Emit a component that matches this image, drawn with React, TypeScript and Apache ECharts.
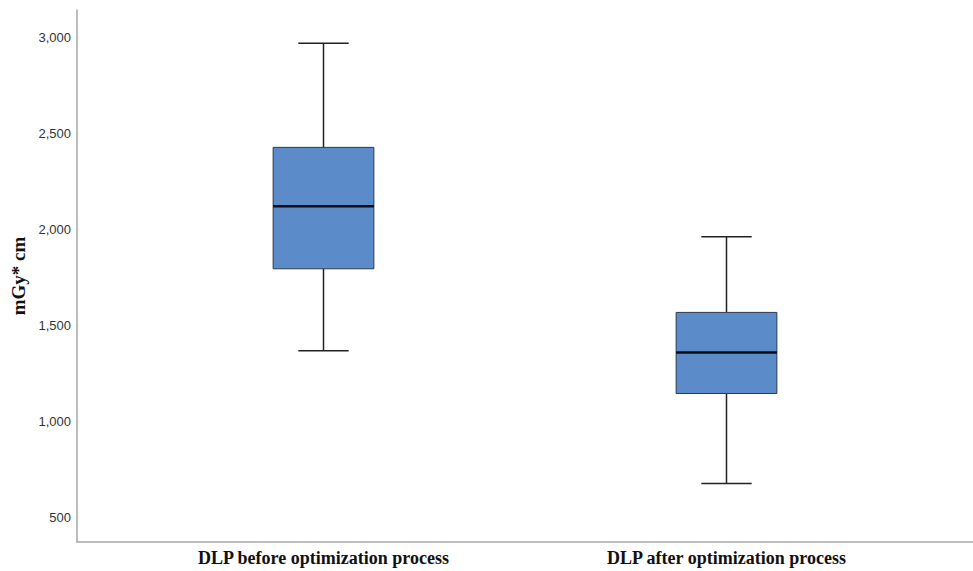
import React, { useEffect, useRef } from "react";
import * as echarts from "echarts";

const categories = ["DLP before optimization process", "DLP after optimization process"];
// [min, Q1, median, Q3, max]
const boxValues = [
  [1368, 1795, 2121, 2427, 2969],
  [677, 1146, 1359, 1568, 1962],
];
const yTicks = [500, 1000, 1500, 2000, 2500, 3000];
const yMin = 373;
const yMax = 3142;
const yName = "mGy* cm";

export default function App() {
  const ref = useRef<HTMLDivElement>(null);
  useEffect(() => {
    if (!ref.current) return;
    const chart = echarts.init(ref.current, undefined, { renderer: "svg" });
    const serif = "'Liberation Serif', 'DejaVu Serif', serif";
    const sans = "'Liberation Sans', Arial, sans-serif";
    chart.setOption({
      animation: false,
      backgroundColor: "#ffffff",
      grid: [
        { left: 122, right: 45, top: 10, bottom: 29 },
        { left: 77, right: 0, top: 10, bottom: 29 },
      ],
      xAxis: [
        {
          type: "category",
          gridIndex: 0,
          data: categories,
          axisLine: { show: false },
          axisTick: { show: false },
          axisLabel: {
            margin: 7,
            fontFamily: serif,
            fontWeight: "bold",
            fontSize: 18,
            color: "#111",
          },
        },
        {
          type: "value",
          gridIndex: 1,
          min: 0,
          max: 1,
          axisLine: { show: true, onZero: false, lineStyle: { color: "#a8a8a8", width: 1.5 } },
          axisTick: { show: false },
          axisLabel: { show: false },
          splitLine: { show: false },
        },
      ],
      yAxis: [
        {
          type: "value",
          gridIndex: 0,
          min: yMin,
          max: yMax,
          axisLine: { show: false },
          axisTick: { show: false },
          axisLabel: { show: false },
          splitLine: { show: false },
        },
        {
          type: "value",
          gridIndex: 1,
          min: yMin,
          max: yMax,
          name: yName,
          nameLocation: "middle",
          nameGap: 48,
          nameTextStyle: { fontFamily: serif, fontWeight: "bold", fontSize: 19, color: "#111" },
          axisLine: { show: true, onZero: false, lineStyle: { color: "#a8a8a8", width: 1.5 } },
          axisTick: { show: false },
          splitLine: { show: false },
          axisLabel: {
            customValues: yTicks,
            margin: 6,
            fontFamily: sans,
            fontSize: 13,
            color: "#333",
            formatter: (v: number) => v.toLocaleString("en-US"),
          },
        },
      ],
      series: [
        {
          type: "custom",
          xAxisIndex: 0,
          yAxisIndex: 0,
          data: boxValues.map((b, i) => [i, ...b]),
          encode: { x: 0, y: [1, 2, 3, 4, 5] },
          renderItem: (params: any, api: any) => {
            const idx = api.value(0);
            const lo = api.coord([idx, api.value(1)]);
            const q1 = api.coord([idx, api.value(2)]);
            const med = api.coord([idx, api.value(3)]);
            const q3 = api.coord([idx, api.value(4)]);
            const hi = api.coord([idx, api.value(5)]);
            const band = api.size([1, 0])[0];
            const half = band * 0.125;
            const cap = half / 2;
            const x = lo[0];
            const whisker = { stroke: "#222", lineWidth: 1.5 };
            return {
              type: "group",
              children: [
                { type: "line", shape: { x1: x, y1: hi[1], x2: x, y2: q3[1] }, style: whisker },
                { type: "line", shape: { x1: x, y1: q1[1], x2: x, y2: lo[1] }, style: whisker },
                { type: "line", shape: { x1: x - cap, y1: hi[1], x2: x + cap, y2: hi[1] }, style: whisker },
                { type: "line", shape: { x1: x - cap, y1: lo[1], x2: x + cap, y2: lo[1] }, style: whisker },
                {
                  type: "rect",
                  shape: { x: x - half, y: q3[1], width: half * 2, height: q1[1] - q3[1] },
                  style: { fill: "#5b8bc8", stroke: "#2e3a4c", lineWidth: 1 },
                },
                {
                  type: "line",
                  shape: { x1: x - half, y1: med[1], x2: x + half, y2: med[1] },
                  style: { stroke: "#0c0c14", lineWidth: 2.5 },
                },
              ],
            };
          },
        },
      ],
    });
    return () => chart.dispose();
  }, []);
  return (
    <div
      ref={ref}
      style={{ position: "fixed", left: 0, top: 0, width: 973, height: 571, background: "#fff" }}
    />
  );
}
